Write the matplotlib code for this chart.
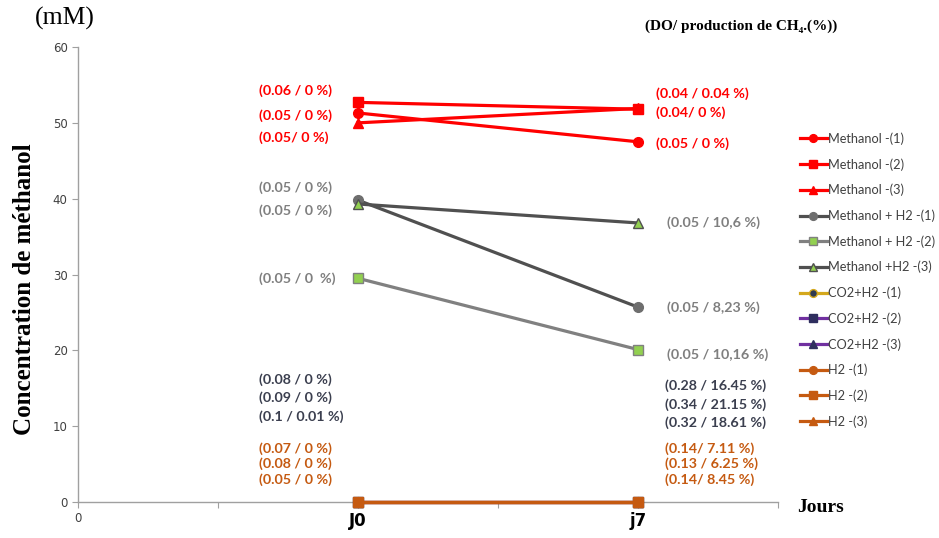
import matplotlib as mpl
mpl.use('Agg')
import matplotlib.pyplot as plt

# Data
days = [2, 4]          # category positions of J0 and j7 on the axis
tick_pos = [0, 1, 2, 3, 4, 5]
tick_lab = ["0", "", "J0", "", "j7", ""]

series_names = ["Methanol -(1)", "Methanol -(2)", "Methanol -(3)",
                "Methanol + H2 -(1)", "Methanol + H2 -(2)", "Methanol +H2 -(3)",
                "CO2+H2 -(1)", "CO2+H2 -(2)", "CO2+H2 -(3)",
                "H2 -(1)", "H2 -(2)", "H2 -(3)"]
series_vals = [[51.3, 47.5], [52.7, 51.8], [50.0, 51.9],
               [39.8, 25.7], [29.5, 20.1], [39.3, 36.8],
               [0, 0], [0, 0], [0, 0],
               [0, 0], [0, 0], [0, 0]]

# styles: line colour, marker, marker face, marker edge
styles = [("#FF0000", "o", "#FF0000", "#FF0000"),
          ("#FF0000", "s", "#FF0000", "#FF0000"),
          ("#FF0000", "^", "#FF0000", "#FF0000"),
          ("#505050", "o", "#6E6E6E", "#6E6E6E"),
          ("#808080", "s", "#92D050", "#808080"),
          ("#505050", "^", "#92D050", "#505050"),
          ("#D4A81C", "o", "#2F3A4F", "#D4A81C"),
          ("#7030A0", "s", "#2E2E5E", "#2E2E5E"),
          ("#7030A0", "^", "#2E2E5E", "#2E2E5E"),
          ("#C55A11", "o", "#C55A11", "#C55A11"),
          ("#C55A11", "s", "#C55A11", "#C55A11"),
          ("#C55A11", "^", "#C55A11", "#C55A11")]

# annotations (DO / CH4 production)
left_labels = ["(0.06 / 0 %)", "(0.05 / 0 %)", "(0.05/ 0 %)",
               "(0.05 / 0 %)", "(0.05 / 0 %)", "(0.05 / 0  %)",
               "(0.08 / 0 %)", "(0.09 / 0 %)", "(0.1 / 0.01 %)",
               "(0.07 / 0 %)", "(0.08 / 0 %)", "(0.05 / 0 %)"]
left_y = [54.3, 51.0, 48.1, 41.5, 38.4, 29.5, 16.1, 13.7, 11.2, 7.1, 5.0, 2.9]
right_labels = ["(0.04 / 0.04 %)", "(0.04/ 0 %)", "(0.05 / 0 %)",
                "(0.05 / 10,6 %)", "(0.05 / 8,23 %)", "(0.05 / 10,16 %)",
                "(0.28 / 16.45 %)", "(0.34 / 21.15 %)", "(0.32 / 18.61 %)",
                "(0.14/ 7.11 %)", "(0.13 / 6.25 %)", "(0.14/ 8.45 %)"]
right_y = [53.9, 51.4, 47.3, 36.8, 25.6, 19.4, 15.4, 12.9, 10.4, 7.1, 5.0, 2.9]
label_colors = ["#FF0000"] * 3 + ["#7F7F7F"] * 3 + ["#3B3F4F"] * 3 + ["#C55A11"] * 3

fig = plt.figure(figsize=(9.39, 5.38), dpi=100)
ax = fig.add_axes([0.0831, 0.0669, 0.7455, 0.8457])

for i in range(len(series_names)):
    lc, mk, mf, me = styles[i]
    ax.plot(days, series_vals[i], color=lc, lw=2.3, marker=mk, ms=7,
            markerfacecolor=mf, markeredgecolor=me, label=series_names[i],
            clip_on=False, zorder=3 + i * 0.01)

ax.set_xlim(0, 5)
ax.set_ylim(0, 60)
ax.set_yticks(range(0, 61, 10))
ax.set_xticks(tick_pos)
ax.set_xticklabels(tick_lab)
for lab in ax.get_xticklabels():
    if lab.get_text() in ("J0", "j7"):
        lab.set_fontweight('bold')
        lab.set_fontsize(12)
        lab.set_color('black')
    else:
        lab.set_fontsize(8.5)
        lab.set_color('#404040')
ax.tick_params(axis='y', labelsize=8.5, labelcolor='#404040', color='#A0A0A0', length=4)
ax.tick_params(axis='x', color='#A0A0A0', length=4, direction='out')
for s in ['top', 'right']:
    ax.spines[s].set_visible(False)
for s in ['left', 'bottom']:
    ax.spines[s].set_color('#A0A0A0')
    ax.spines[s].set_linewidth(1)

for t, y, c in zip(left_labels, left_y, label_colors):
    ax.text(1.29, y, t, color=c, fontsize=10.3, fontweight='bold', family='Lato',
            ha='left', va='center')
right_x = [4.13] * 3 + [4.21] * 3 + [4.19] * 3 + [4.19] * 3
for t, y, c, x in zip(right_labels, right_y, label_colors, right_x):
    ax.text(x, y, t, color=c, fontsize=10.3, fontweight='bold', family='Lato',
            ha='left', va='center')

handles, labels = ax.get_legend_handles_labels()
leg = ax.legend(handles, labels, loc='center left',
                bbox_to_anchor=(1.015, 0.488), frameon=False,
                handlelength=2.1, handletextpad=0.1, labelspacing=1.03,
                markerscale=0.8, prop={'family': 'Lato', 'size': 9.2})
for t in leg.get_texts():
    t.set_color('#404040')

serif = ['Liberation Serif', 'DejaVu Serif']
fig.text(0.026, 0.462, "Concentration de méthanol", rotation=90, family=serif,
         fontweight='bold', fontsize=18, ha='center', va='center')
fig.text(0.037, 0.966, "(mM)", family=serif, fontsize=18.5, ha='left', va='center')
fig.text(0.687, 0.952, "(DO/ production de CH\u2084.(%))", family=serif,
         fontweight='bold', fontsize=11, ha='left', va='center')
fig.text(0.849, 0.056, "Jours", family=serif, fontweight='bold', fontsize=14,
         ha='left', va='center')

fig.savefig("out.png", dpi=100)
